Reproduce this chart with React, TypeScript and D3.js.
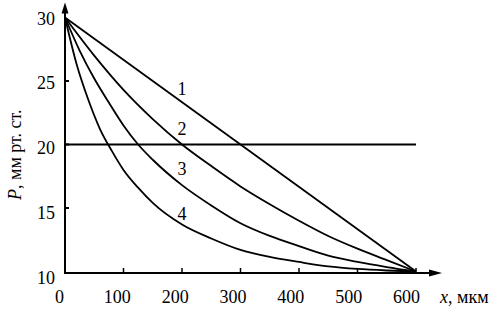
import React from 'react';
import * as d3 from 'd3';

// tick values
const xTicks = [0, 100, 200, 300, 400, 500, 600];
const yTicks = [10, 15, 20, 25, 30];
const yInnerTicks = [15, 20, 25];

// curves: [x (мкм), P (мм рт. ст.)]
const curve1: [number, number][] = [[0, 30], [600, 10]];
const curve2: [number, number][] = [
  [0, 30], [50, 27.0], [100, 24.3], [150, 22.0], [200, 20.0], [250, 18.3],
  [300, 16.7], [350, 15.3], [400, 14.0], [450, 12.8], [500, 11.8], [550, 10.9], [600, 10],
];
const curve3: [number, number][] = [
  [0, 30], [25, 27.4], [50, 25.2], [75, 23.3], [100, 21.5], [125, 20.0], [150, 18.8],
  [200, 16.8], [250, 15.2], [300, 13.8], [350, 12.8], [400, 12.0], [450, 11.25],
  [500, 10.75], [550, 10.35], [600, 10],
];
const curve4: [number, number][] = [
  [0, 30], [20, 26.3], [40, 23.5], [60, 21.2], [80, 19.5], [100, 18.0], [125, 16.6],
  [150, 15.4], [200, 13.7], [250, 12.6], [300, 11.7], [350, 11.15], [400, 10.75],
  [450, 10.4], [500, 10.2], [550, 10.08], [600, 10],
];
const curves = [curve1, curve2, curve3, curve4];
const curveNames = ['1', '2', '3', '4'];
const curveLabelAt: [number, number][] = [[200, 24.4], [200, 21.2], [200, 18.05], [200, 14.55]];
const refLevel = 20;

const FONT = "Liberation Serif, DejaVu Serif, Tinos, Times New Roman, Times, serif";
const txt: React.CSSProperties = { fontFamily: FONT, fontSize: 18 };

export default function App() {
  const W = 497, H = 310;
  const x = d3.scaleLinear().domain([0, 600]).range([65, 416]);
  const y = d3.scaleLinear().domain([10, 30]).range([271.5, 17.5]);
  // label placement scales (labels in the original are slightly offset)
  const xl = d3.scaleLinear().domain([0, 600]).range([59.5, 406.5]);
  const yl = d3.scaleLinear().domain([10, 30]).range([277.5, 18.5]);

  const line = d3.line<[number, number]>()
    .x(d => x(d[0]))
    .y(d => y(d[1]))
    .curve(d3.curveMonotoneX);

  const x0 = x(0);
  const axisY = y(10) + 1.5;
  const yTop = y(30) - 15;
  const xEnd = x(600) + 26;

  return (
    <svg width={W} height={H} style={{ position: 'absolute', left: 0, top: 0, background: '#fff' }}>
      <rect x={0} y={0} width={W} height={H} fill="#fff" />
      {/* curves */}
      {curves.map((c, i) => (
        <path key={i} d={line(c) || ''} fill="none" stroke="#000" strokeWidth={1.8} />
      ))}
      {/* reference level */}
      <line x1={x0} x2={x(600)} y1={y(refLevel)} y2={y(refLevel)} stroke="#000" strokeWidth={2} />
      {/* axes */}
      <line x1={x0} x2={x0} y1={axisY} y2={yTop + 8} stroke="#000" strokeWidth={2} />
      <path d={`M${x0},${yTop} L${x0 - 3.5},${yTop + 11} L${x0 + 3.5},${yTop + 11} Z`} fill="#000" />
      <line x1={x0 - 1} x2={xEnd - 8} y1={axisY} y2={axisY} stroke="#000" strokeWidth={2} />
      <path d={`M${xEnd},${axisY} L${xEnd - 13},${axisY - 3.5} L${xEnd - 13},${axisY + 3.5} Z`} fill="#000" />
      {/* ticks */}
      {yInnerTicks.map(v => (
        <line key={v} x1={x0} x2={x0 + 4} y1={y(v)} y2={y(v)} stroke="#000" strokeWidth={2} />
      ))}
      {xTicks.filter(v => v > 0).map(v => (
        <line key={v} x1={x(v)} x2={x(v)} y1={axisY} y2={axisY - 5} stroke="#000" strokeWidth={1.5} />
      ))}
      {/* tick labels */}
      {yTicks.map(v => (
        <text key={v} x={55} y={yl(v)} textAnchor="end" dominantBaseline="central" style={txt}>{v}</text>
      ))}
      {xTicks.map(v => (
        <text key={v} x={xl(v)} y={303} textAnchor="middle" style={txt}>{v}</text>
      ))}
      {/* curve labels */}
      {curveLabelAt.map((p, i) => (
        <text key={i} x={x(p[0])} y={y(p[1])} textAnchor="middle" dominantBaseline="central" style={txt}>
          {curveNames[i]}
        </text>
      ))}
      {/* axis titles */}
      <text transform={`translate(21,200) rotate(-90)`} textAnchor="start" style={txt}>
        <tspan fontStyle="italic">P</tspan>, мм рт. ст.
      </text>
      <text x={440} y={303} style={txt}>
        <tspan fontStyle="italic">x</tspan>, мкм
      </text>
    </svg>
  );
}
